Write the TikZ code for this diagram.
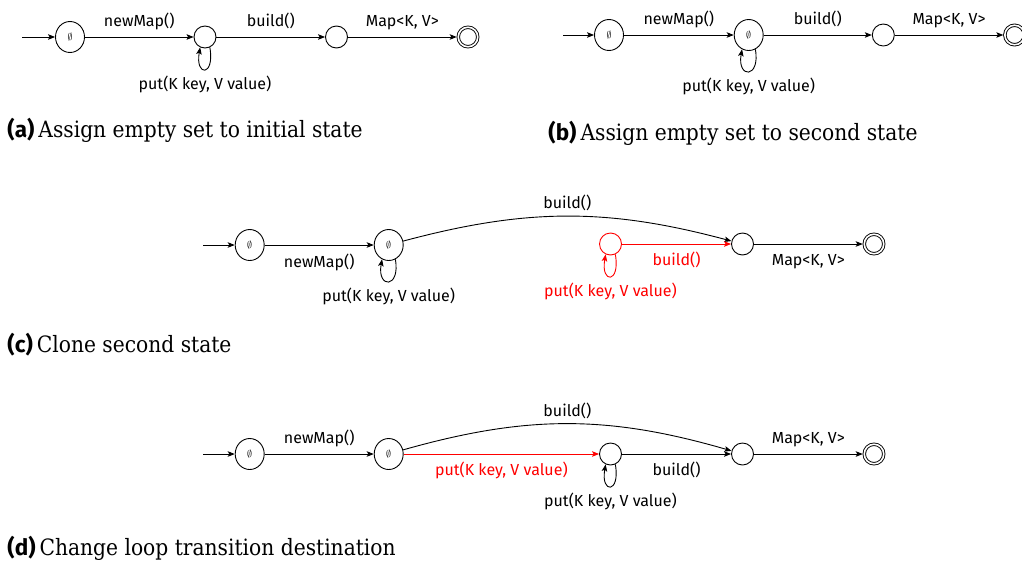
\documentclass[tikz,border=0pt]{standalone}
\usepackage{fontspec}
\setsansfont{Fira Sans}
\newfontfamily\capserif{DejaVu Serif Condensed}
\usetikzlibrary{arrows.meta,shapes.geometric}

\tikzset{
  lbl/.style={font=\sffamily\fontsize{16}{19}\selectfont, inner sep=0pt, text height=12pt, text depth=4pt},
  estate/.style={draw, ellipse, minimum width=29pt, minimum height=31pt, inner sep=0pt, font=\fontsize{10}{10}\selectfont},
  cstate/.style={draw, circle, minimum size=22pt, inner sep=0pt},
  fstate/.style={draw, circle, double, double distance=1.6pt, minimum size=19.5pt, inner sep=0pt, outer sep=1.5pt},
  tr/.style={-{Stealth[length=7pt,width=5.5pt,inset=1.5pt]}},
  capt/.style={anchor=west, inner sep=0pt, font=\fontsize{22.5}{26}\selectfont},
  hl/.style={red},
}
\newcommand{\capt}[2]{{\sffamily\bfseries (#1)}\hspace{4pt}{\capserif #2}}

\begin{document}
\begin{tikzpicture}[x=1pt, y=-1pt, line width=0.9pt]
\useasboundingbox (0,0) rectangle (1022,563);

% ---------- (a) ----------
\coordinate (ia) at (22,37);
\node[estate] (a0) at (70,37) {$\emptyset$};
\node[cstate] (a1) at (205,37) {};
\node[cstate] (a2) at (336.5,37) {};
\node[fstate] (a3) at (468,37) {};
\draw[tr] (ia) -- (a0);
\draw[tr] (a0) -- node[lbl, above=6pt] {newMap()} (a1);
\draw[tr] (a1) -- node[lbl, above=6pt] {build()} (a2);
\draw[tr] (a2) -- node[lbl, above=6pt] {Map<K, V>} (a3);
\draw[tr] (a1.-65) .. controls +(80:30) and +(100:30) .. (a1.-115)
  node[lbl, pos=0.5, below=8pt] {put(K key, V value)};
\node[capt] (capa) at (7,130) {\capt{a}{Assign empty set to initial state}};

% ---------- (b) ----------
\coordinate (ib) at (563,35);
\node[estate] (b0) at (609,35) {$\emptyset$};
\node[estate] (b1) at (748.7,35) {$\emptyset$};
\node[cstate] (b2) at (883.3,35) {};
\node[fstate] (b3) at (1014.6,35) {};
\draw[tr] (ib) -- (b0);
\draw[tr] (b0) -- node[lbl, above=6pt] {newMap()} (b1);
\draw[tr] (b1) -- node[lbl, above=6pt] {build()} (b2);
\draw[tr] (b2) -- node[lbl, above=6pt] {Map<K, V>} (b3);
\draw[tr] (b1.-65) .. controls +(80:30) and +(100:30) .. (b1.-115)
  node[lbl, pos=0.5, below=8pt] {put(K key, V value)};
\node[capt] (capb) at (548,133) {\capt{b}{Assign empty set to second state}};

% ---------- (c) ----------
\coordinate (ic) at (203,245);
\node[estate] (c0) at (249.7,245) {$\emptyset$};
\node[estate] (c1) at (388.7,245) {$\emptyset$};
\node[cstate, draw=red] (cr) at (610.5,244) {};
\node[cstate] (c2) at (742.5,244) {};
\node[fstate] (c3) at (874,244) {};
\draw[tr] (ic) -- (c0);
\draw[tr] (c0) -- node[lbl, below=10pt] {newMap()} (c1);
\draw[tr] (c1) to[bend left=15] node[lbl, above=3pt] {build()} (c2);
\draw[tr, hl] (cr) -- node[lbl, below=9pt] {build()} (c2);
\draw[tr] (c2) -- node[lbl, below=9pt] {Map<K, V>} (c3);
\draw[tr] (c1.-65) .. controls +(80:30) and +(100:30) .. (c1.-115)
  node[lbl, pos=0.5, below=8pt] {put(K key, V value)};
\draw[tr, hl] (cr.-65) .. controls +(80:30) and +(100:30) .. (cr.-115)
  node[lbl, pos=0.5, below=8pt] {put(K key, V value)};
\node[capt] (capc) at (7,345) {\capt{c}{Clone second state}};

% ---------- (d) ----------
\coordinate (id) at (203,454);
\node[estate] (d0) at (249.7,454) {$\emptyset$};
\node[estate] (d1) at (388.7,454) {$\emptyset$};
\node[cstate] (dm) at (610.5,454) {};
\node[cstate] (d2) at (742.5,454) {};
\node[fstate] (d3) at (874,454) {};
\draw[tr] (id) -- (d0);
\draw[tr] (d0) -- node[lbl, above=6pt] {newMap()} (d1);
\draw[tr] (d1) to[bend left=16] node[lbl, above=3pt] {build()} (d2);
\draw[tr, hl] (d1) -- node[lbl, below=9pt] {put(K key, V value)} (dm);
\draw[tr] (dm) -- node[lbl, below=9pt] {build()} (d2);
\draw[tr] (d2) -- node[lbl, above=6pt] {Map<K, V>} (d3);
\draw[tr] (dm.-65) .. controls +(80:30) and +(100:30) .. (dm.-115)
  node[lbl, pos=0.5, below=8pt] {put(K key, V value)};
\node[capt] (capd) at (7,548) {\capt{d}{Change loop transition destination}};
\end{tikzpicture}
\end{document}
